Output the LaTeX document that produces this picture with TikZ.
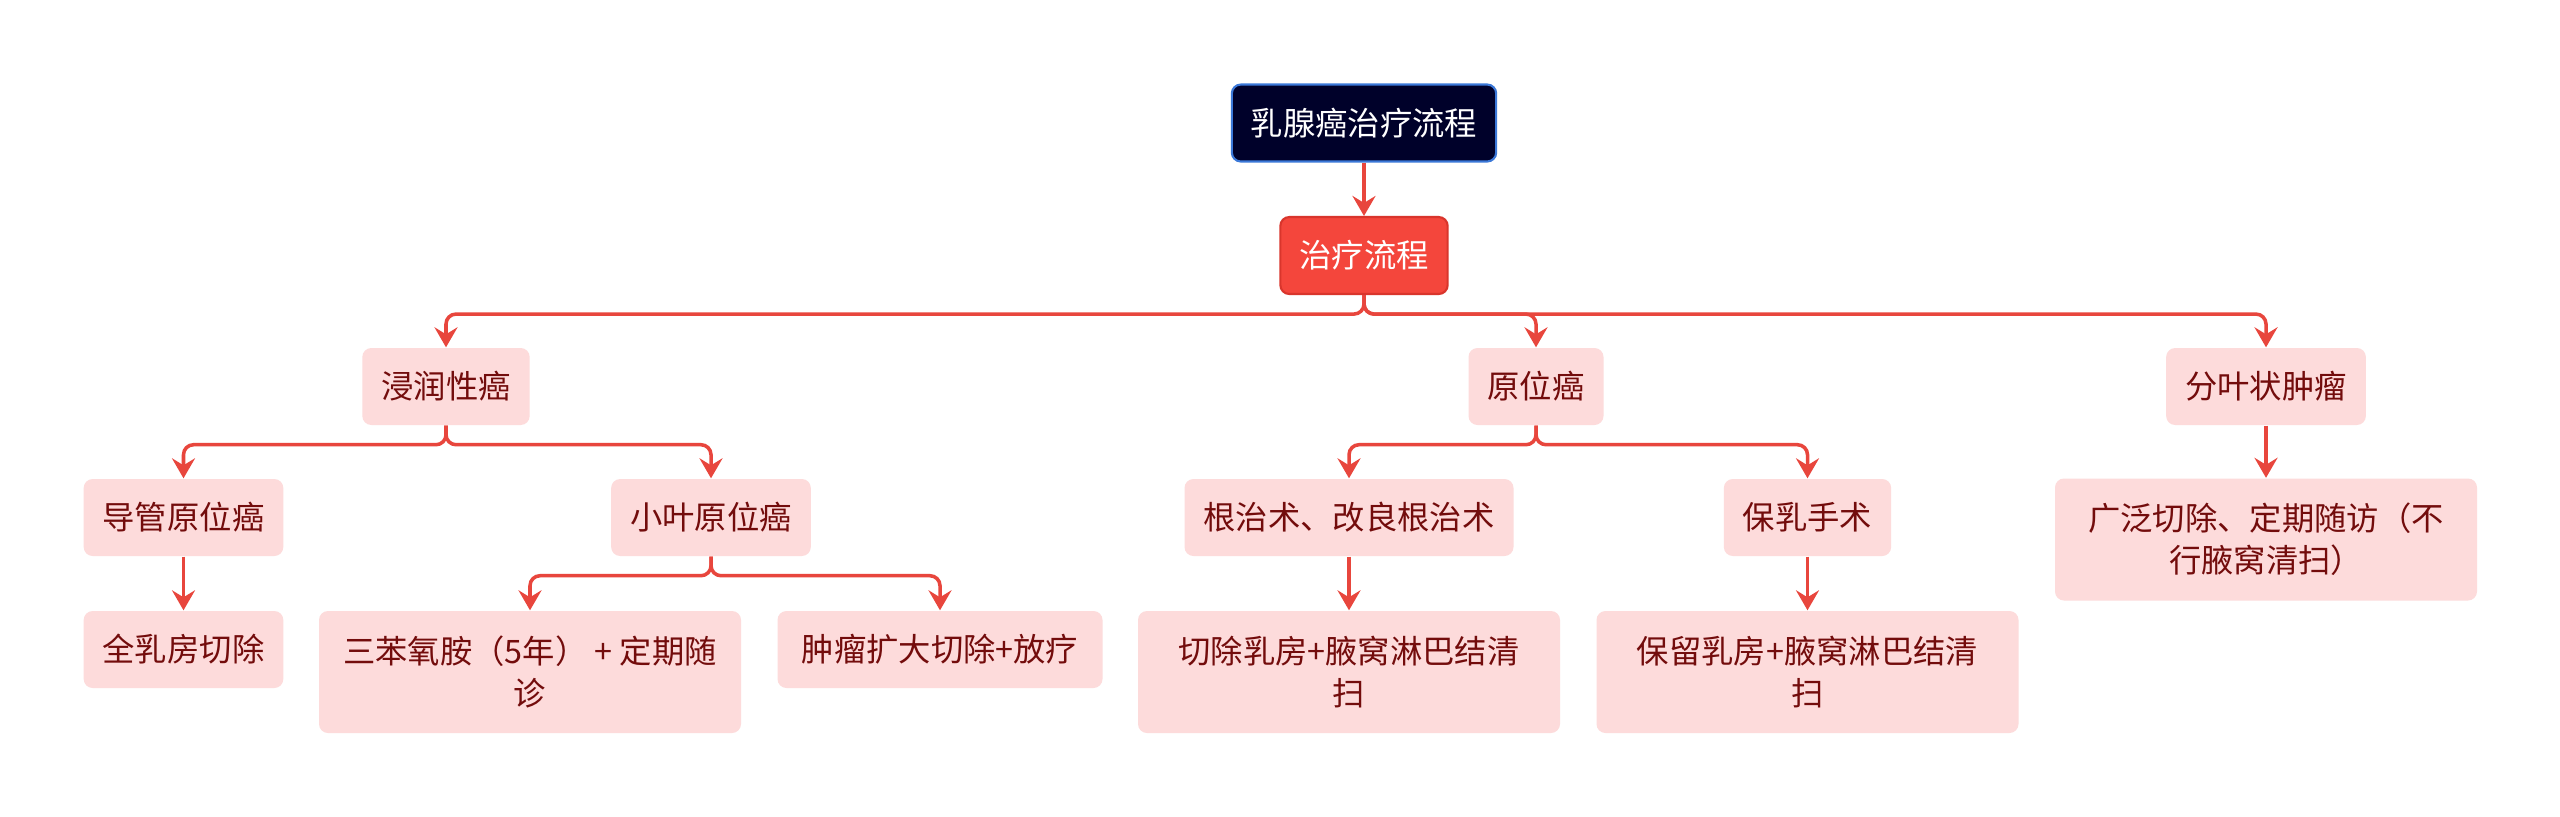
\documentclass[tikz,border=0pt]{standalone}
\usepackage{fontspec}
\newfontfamily\cjk{Noto Sans CJK SC}
\usepackage{xcolor}
\usepackage{tikz}
\usetikzlibrary{arrows.meta,positioning}
\definecolor{rootblue}{HTML}{00012A}
\definecolor{rootedge}{HTML}{3B78D8}
\definecolor{mainred}{HTML}{F4463C}
\definecolor{mainedge}{HTML}{D9352C}
\definecolor{linered}{HTML}{E8463D}
\definecolor{pinkfill}{HTML}{FDDBDB}
\definecolor{darkred}{HTML}{730C0C}

\begin{document}
\begin{tikzpicture}[
    box/.style={rectangle,rounded corners=0.09cm,inner xsep=0.19cm,inner ysep=0cm,minimum height=0.77cm,align=center,font=\cjk\fontsize{9.2pt}{11.95pt}\selectfont},
    rootbox/.style={box,fill=rootblue,draw=rootedge,line width=0.6pt,text=white},
    mainbox/.style={box,fill=mainred,draw=mainedge,line width=0.6pt,text=white},
    subbox/.style={box,fill=pinkfill,text=darkred},
    twoline/.style={minimum height=1.22cm,minimum width=4.22cm},
    link/.style={draw=linered,line width=1pt,rounded corners=0.1cm,-{Stealth[length=0.2cm,width=0.23cm,inset=0.07cm]}}
]
    \path[use as bounding box,fill=white] (0,0) rectangle (25.6,-8.16);

    % Root
    \node[rootbox] (root) at (13.64,-1.23) {乳腺癌治疗流程};
    \node[mainbox] (flow) at (13.64,-2.555) {治疗流程};

    % Types
    \node[subbox] (infil) at (4.46,-3.865) {浸润性癌};
    \node[subbox] (insitu) at (15.36,-3.865) {原位癌};
    \node[subbox] (phyll) at (22.66,-3.865) {分叶状肿瘤};

    % Invasive
    \node[subbox] (ductal) at (1.835,-5.175) {导管原位癌};
    \node[subbox] (lobular) at (7.11,-5.175) {小叶原位癌};
    \node[subbox] (mast) at (1.835,-6.495) {全乳房切除};
    \node[subbox,twoline] (tamox) at (5.30,-6.72) {三苯氧胺（5年） + 定期随\\诊};
    \node[subbox,minimum width=3.25cm] (excision) at (9.40,-6.495) {肿瘤扩大切除+放疗};

    % In situ
    \node[subbox] (radical) at (13.49,-5.175) {根治术、改良根治术};
    \node[subbox] (conserve) at (18.075,-5.175) {保乳手术};
    \node[subbox,twoline] (remove) at (13.49,-6.72) {切除乳房+腋窝淋巴结清\\扫};
    \node[subbox,twoline] (keep) at (18.075,-6.72) {保留乳房+腋窝淋巴结清\\扫};

    % Phyllodes
    \node[subbox,twoline] (wide) at (22.66,-5.395) {广泛切除、定期随访（不\\行腋窝清扫）};

    % Arrows
    \foreach \i/\j in {root/flow, ductal/mast, radical/remove, conserve/keep, phyll/wide} {
        \draw[link] (\i.south) -- (\j.north);
    }
    \foreach \i/\j in {flow/infil, flow/insitu, flow/phyll, infil/ductal, infil/lobular, lobular/tamox, lobular/excision, insitu/radical, insitu/conserve} {
        \draw[link] (\i.south) -- ++(0,-0.19) -| (\j.north);
    }
\end{tikzpicture}
\end{document}
